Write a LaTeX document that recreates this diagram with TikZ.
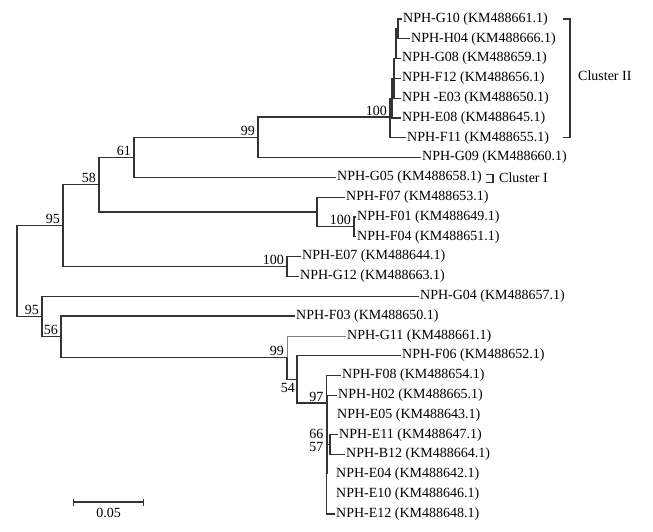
\documentclass[tikz,border=0pt]{standalone}
\usepackage{fontspec}
\setmainfont{Liberation Serif}
\usetikzlibrary{arrows.meta}

\begin{document}
\begin{tikzpicture}[x=1pt,y=-1pt,
  every node/.style={font=\fontsize{14}{16}\selectfont},
  leaf/.style={anchor=west,inner sep=1.5pt},
  boot/.style={anchor=base east,inner sep=0pt},
  br/.style={line width=1.1pt,draw=black!80},
  thinbr/.style={line width=0.6pt,draw=black!50}]
  \useasboundingbox (0,0) rectangle (653,531);

  \coordinate (r) at (17,271);
  \coordinate (n95a) at (63,225.6);
  \coordinate (n58) at (99,184.7);
  \coordinate (n61) at (134,157.4);
  \coordinate (n99a) at (258,137.3);
  \coordinate (n100a) at (390,117);
  \coordinate (ca) at (392,98.2);
  \coordinate (cb) at (394,78.4);
  \coordinate (cc) at (396,58.6);
  \coordinate (cd) at (398,28.9);
  \coordinate (nF) at (317,212);
  \coordinate (n100f) at (354,226.9);
  \coordinate (n100e) at (287,266.5);
  \coordinate (n95b) at (42,316.5);
  \coordinate (n56) at (61,336.8);
  \coordinate (n99b) at (287,357.5);
  \coordinate (n54) at (297,379.3);
  \coordinate (n97) at (326.5,403);
  \coordinate (n66) at (327.5,444.7);
  \coordinate (n57) at (330,444.7);

  \node[leaf] (G10) at (401.5,19) {NPH-G10 (KM488661.1)};
  \node[leaf] (H04) at (409.5,38.8) {NPH-H04 (KM488666.1)};
  \node[leaf] (G08) at (400.5,58.6) {NPH-G08 (KM488659.1)};
  \node[leaf] (F12) at (400.5,78.4) {NPH-F12 (KM488656.1)};
  \node[leaf] (E03) at (400.5,98.2) {NPH -E03 (KM488650.1)};
  \node[leaf] (E08) at (400.5,118) {NPH-E08 (KM488645.1)};
  \node[leaf] (F11) at (405.5,137.8) {NPH-F11 (KM488655.1)};
  \node[leaf] (G09) at (420.5,157.6) {NPH-G09 (KM488660.1)};
  \node[leaf] (G05) at (335.5,177.4) {NPH-G05 (KM488658.1)};
  \node[leaf] (F07) at (344.5,197.2) {NPH-F07 (KM488653.1)};
  \node[leaf] (F01) at (355.5,217) {NPH-F01 (KM488649.1)};
  \node[leaf] (F04) at (355.5,236.8) {NPH-F04 (KM488651.1)};
  \node[leaf] (E07) at (300.5,256.6) {NPH-E07 (KM488644.1)};
  \node[leaf] (G12) at (298.5,276.4) {NPH-G12 (KM488663.1)};
  \node[leaf] (G04) at (418.5,296.2) {NPH-G04 (KM488657.1)};
  \node[leaf] (F03) at (294.5,316) {NPH-F03 (KM488650.1)};
  \node[leaf] (G11) at (345.5,335.8) {NPH-G11 (KM488661.1)};
  \node[leaf] (F06) at (400.5,355.6) {NPH-F06 (KM488652.1)};
  \node[leaf] (F08) at (340.5,375.4) {NPH-F08 (KM488654.1)};
  \node[leaf] (H02) at (336.5,395.2) {NPH-H02 (KM488665.1)};
  \node[leaf] (E05) at (335.5,415) {NPH-E05 (KM488643.1)};
  \node[leaf] (E11) at (337.5,434.8) {NPH-E11 (KM488647.1)};
  \node[leaf] (B12) at (344.5,454.6) {NPH-B12 (KM488664.1)};
  \node[leaf] (E04) at (334.5,474.4) {NPH-E04 (KM488642.1)};
  \node[leaf] (E10) at (334.5,494.2) {NPH-E10 (KM488646.1)};
  \node[leaf] (E12) at (334.5,514) {NPH-E12 (KM488648.1)};

  \foreach \p/\c in {r/n95a, r/n95b, n95a/n58, n95a/n100e, n58/n61, n58/nF,
      n61/n99a, n61/G05.west, n99a/n100a, n99a/G09.west, n100a/ca, n100a/F11.west,
      ca/cb, ca/E08.west, cb/cc, cb/F12.west, cb/E03.west, cc/cd, cc/G08.west,
      cd/G10.west, cd/H04.west, nF/F07.west, nF/n100f, n100f/F01.west,
      n100f/F04.west, n100e/E07.west, n100e/G12.west, n95b/G04.west, n95b/n56,
      n56/F03.west, n56/n99b, n99b/n54, n54/F06.west, n54/n97, n97/F08.west,
      n97/E12.west, n97/n66, n66/H02.west, n66/n57, n57/E11.west, n57/B12.west}
    \draw[br] (\p) |- (\c);
  \draw[br] (n66) -- (n66 |- E04.west);
  \draw[thinbr] (n99b) |- (G11.west);

  \foreach \n/\t in {n95a/95, n58/58, n61/61, n99a/99, n100a/100, n100f/100,
      n100e/100, n95b/95, n56/56, n99b/99, n97/97}
    \node[boot] at ([shift={(-3,-2)}]\n) {\t};
  \node[anchor=north east,inner sep=0pt] at ([shift={(-2,4)}]n54) {54};
  \node[anchor=east,inner sep=0pt] at ([shift={(-4,-10.7)}]n66) {66};
  \node[anchor=east,inner sep=0pt] at ([shift={(-4,2.3)}]n66) {57};

  \draw[br] (563,19) -- (570,19) -- (570,137.8) -- (563,137.8);
  \node[leaf] (c2) at (576.5,76) {Cluster II};
  \draw[br] (486,174.5) -- (493,174.5) -- (493,182.5) -- (486,182.5);
  \node[leaf] (c1) at (497.5,178) {Cluster I};

  \coordinate (s0) at (73,502);
  \coordinate (s1) at (144,502);
  \draw[br,{Bar[width=7pt]}-{Bar[width=7pt]}] (s0) -- (s1);
  \node (sl) at (108.5,513) {0.05};
\end{tikzpicture}
\end{document}
